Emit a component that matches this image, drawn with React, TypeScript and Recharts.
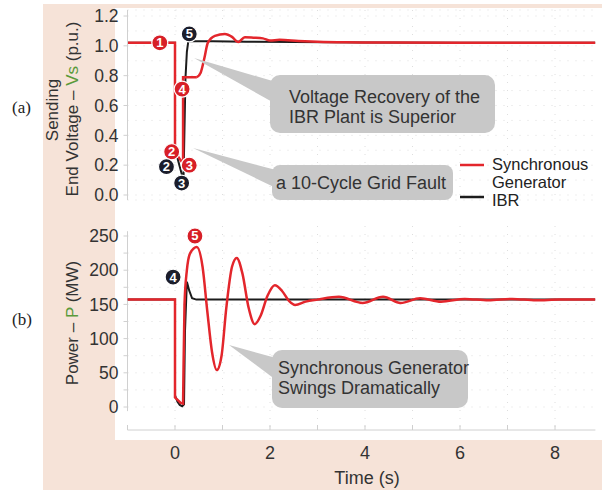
import { LineChart, Line, XAxis, YAxis, CartesianGrid, ReferenceDot, ReferenceLine } from "recharts";

// time axis (s)
const TIME_TICKS = [-1, 0, 1, 2, 3, 4, 5, 6, 7, 8];
const V_TICKS = [0, 0.1, 0.2, 0.3, 0.4, 0.5, 0.6, 0.7, 0.8, 0.9, 1.0, 1.1, 1.2];
const P_TICKS = [0, 25, 50, 75, 100, 125, 150, 175, 200, 225, 250];

// (a) sending end voltage, synchronous generator: fault steps, then recovery
const vSgStepT = [-1, 0, 0, 0.08, 0.17, 0.17, 0.46];
const vSgStep = [1.02, 1.02, 0.3, 0.25, 0.21, 0.79, 0.79];
const vSgRecT = [0.46, 0.54, 0.62, 0.69, 0.84, 1.05, 1.2, 1.33, 1.47, 1.65, 1.85, 2.0, 2.2, 2.6, 3.0, 3.6, 4.5, 6, 7.5, 8.85];
const vSgRec = [0.79, 0.82, 0.92, 1.02, 1.067, 1.08, 1.06, 1.025, 1.058, 1.055, 1.05, 1.035, 1.04, 1.033, 1.028, 1.024, 1.022, 1.02, 1.02, 1.02];

// (a) IBR
const vIbrT = [-1, 0, 0, 0.05, 0.1, 0.15, 0.18, 0.2, 0.22, 0.25, 0.28, 0.4, 0.8, 1.5, 2.5, 4, 6, 8.85];
const vIbr = [1.02, 1.02, 0.28, 0.25, 0.19, 0.13, 0.12, 0.45, 0.78, 0.96, 1.03, 1.03, 1.03, 1.028, 1.025, 1.022, 1.02, 1.02];

// (b) power, synchronous generator: fault part, then swings
const pSgStepT = [-1, 0, 0, 0.06, 0.12, 0.17, 0.18];
const pSgStep = [157, 157, 14, 10, 6, 5, 60];
const pSgSwingT = [0.18, 0.2, 0.25, 0.32, 0.46, 0.58, 0.68, 0.78, 0.88, 0.98, 1.08, 1.2, 1.3, 1.42, 1.55, 1.68, 1.8, 1.95, 2.1, 2.25, 2.4, 2.53, 2.75, 3.0, 3.45, 3.95, 4.38, 4.75, 5.16, 5.6, 6.1, 6.6, 7.1, 7.6, 8.1, 8.85];
const pSgSwing = [60, 150, 200, 225, 234, 205, 140, 80, 54, 75, 145, 205, 218, 195, 145, 121, 133, 163, 178, 170, 155, 149, 154, 157, 161, 152, 161, 152, 159, 154, 158, 156, 158, 156, 157, 157];

// (b) IBR
const pIbrT = [-1, 0, 0, 0.05, 0.1, 0.15, 0.19, 0.21, 0.25, 0.3, 0.36, 0.45, 1, 3, 6, 8.85];
const pIbr = [157, 157, 17, 8, 3, 1, 4, 110, 183, 170, 159, 157, 157, 157, 157, 157];

// numbered event markers
const vMarkT = [-0.32, -0.07, -0.18, 0.3, 0.14, 0.15, 0.3];
const vMarkV = [1.02, 0.29, 0.19, 0.2, 0.08, 0.71, 1.08];
const vMarkN = ["1", "2", "2", "3", "3", "4", "5"];
const vMarkSg = [true, true, false, true, false, true, false];
const pMarkT = [0.42, -0.04];
const pMarkP = [250, 190];
const pMarkN = ["5", "4"];
const pMarkSg = [true, false];

const RED = "#e3262c";
const BLACK = "#1c1c1c";
const PEACH = "#f6e3d8";
const FONT = "'Liberation Sans', Arial, sans-serif";

const pts = (ts: number[], ys: number[]) => ts.map((t, i) => ({ t, y: ys[i] }));

const Marker = (props: any) => {
  const { cx, cy, n, sg } = props;
  return (
    <g>
      <circle cx={cx} cy={cy} r={8} fill={sg ? "#d71f27" : "#1b1d2b"} stroke="#fff" strokeWidth={1.2} />
      <text x={cx} y={cy + 4.5} textAnchor="middle" fontSize={13} fontWeight="bold" fill="#fff" fontFamily={FONT}>
        {n}
      </text>
    </g>
  );
};

const TimeTick = (props: any) => {
  const { x, y, payload } = props;
  const v = payload.value;
  return (
    <g>
      <line x1={x} x2={x} y1={y} y2={y - 5} stroke="#cfcfcf" />
      {v >= 0 && v % 2 === 0 ? (
        <text x={x} y={y + 29} textAnchor="middle" fontSize={18} fill="#333" fontFamily={FONT}>
          {v}
        </text>
      ) : null}
    </g>
  );
};

const fmtV = (v: number) => (Math.round(v * 10) % 2 === 0 ? v.toFixed(1) : "");
const fmtP = (v: number) => (v % 50 === 0 ? String(v) : "");

const axisTick = { fontSize: 17.5, fill: "#333", fontFamily: FONT };

export default function App() {
  return (
    <div style={{ position: "absolute", left: 0, top: 0, width: 602, height: 490, background: "#fff", overflow: "hidden" }}>
      <div style={{ position: "absolute", left: 43, top: 4, width: 72, height: 486, background: PEACH }} />
      <div style={{ position: "absolute", left: 43, top: 4, width: 559, height: 4, background: PEACH }} />
      <div style={{ position: "absolute", left: 43, top: 440, width: 559, height: 50, background: PEACH }} />

      <div style={{ position: "absolute", left: 0, top: 0 }}>
        <LineChart width={602} height={215} margin={{ top: 10, right: 6.6, bottom: 15, left: 0 }}>
          <CartesianGrid stroke="#dedede" strokeDasharray="1 7" verticalValues={[0, 1, 2, 3, 4, 5, 6, 7, 8]} />
          <XAxis type="number" dataKey="t" domain={[-1, 8.85]} ticks={TIME_TICKS} allowDataOverflow hide />
          <YAxis
            type="number"
            domain={[-0.0336, 1.2403]}
            ticks={V_TICKS}
            allowDataOverflow
            width={127.5}
            tickFormatter={fmtV}
            tick={axisTick}
            axisLine={{ stroke: "#d0d0d0" }}
            tickLine={{ stroke: "#d0d0d0" }}
            tickSize={4}
            tickMargin={5}
          />
          <Line data={pts(vIbrT, vIbr)} dataKey="y" type="linear" stroke={BLACK} strokeWidth={2} dot={false} isAnimationActive={false} />
          <Line data={pts(vSgStepT, vSgStep)} dataKey="y" type="linear" stroke={RED} strokeWidth={2.5} dot={false} isAnimationActive={false} />
          <Line data={pts(vSgRecT, vSgRec)} dataKey="y" type="monotone" stroke={RED} strokeWidth={2.5} dot={false} isAnimationActive={false} />
          {vMarkT.map((t, i) => (
            <ReferenceDot
              key={`vm-${i}`}
              x={t}
              y={vMarkV[i]}
              r={8}
              ifOverflow="visible"
              shape={(p: any) => <Marker {...p} n={vMarkN[i]} sg={vMarkSg[i]} />}
            />
          ))}
        </LineChart>
      </div>

      <div style={{ position: "absolute", left: 0, top: 215 }}>
        <LineChart width={602} height={275} margin={{ top: 11, right: 6.6, bottom: 0, left: 0 }}>
          <CartesianGrid stroke="#dedede" strokeDasharray="1 7" verticalValues={[0, 1, 2, 3, 4, 5, 6, 7, 8]} horizontalValues={P_TICKS} />
          <XAxis
            type="number"
            dataKey="t"
            domain={[-1, 8.85]}
            ticks={TIME_TICKS}
            allowDataOverflow
            height={60}
            tickSize={0}
            tickMargin={0}
            tickLine={false}
            axisLine={{ stroke: "#d0d0d0" }}
            tick={<TimeTick />}
          />
          <YAxis
            type="number"
            domain={[-33.6, 264.6]}
            ticks={P_TICKS}
            allowDataOverflow
            width={127.5}
            tickFormatter={fmtP}
            tick={axisTick}
            axisLine={false}
            tickLine={{ stroke: "#d0d0d0" }}
            tickSize={4}
            tickMargin={5}
          />
          <ReferenceLine segment={[{ x: -1, y: -6 }, { x: -1, y: 257 }]} stroke="#d0d0d0" ifOverflow="visible" />
          <Line data={pts(pIbrT, pIbr)} dataKey="y" type="linear" stroke={BLACK} strokeWidth={2} dot={false} isAnimationActive={false} />
          <Line data={pts(pSgStepT, pSgStep)} dataKey="y" type="linear" stroke={RED} strokeWidth={2.5} dot={false} isAnimationActive={false} />
          <Line data={pts(pSgSwingT, pSgSwing)} dataKey="y" type="monotone" stroke={RED} strokeWidth={2.5} dot={false} isAnimationActive={false} />
          {pMarkT.map((t, i) => (
            <ReferenceDot
              key={`pm-${i}`}
              x={t}
              y={pMarkP[i]}
              r={8}
              ifOverflow="visible"
              shape={(p: any) => <Marker {...p} n={pMarkN[i]} sg={pMarkSg[i]} />}
            />
          ))}
        </LineChart>
      </div>

      <svg width={602} height={490} style={{ position: "absolute", left: 0, top: 0, pointerEvents: "none" }} fontFamily={FONT}>
        <text x={12} y={113} fontSize={17} fill="#222" fontFamily="'Liberation Serif', serif">(a)</text>
        <text x={12} y={325} fontSize={17} fill="#222" fontFamily="'Liberation Serif', serif">(b)</text>

        <text transform="translate(58,110) rotate(-90)" textAnchor="middle" fontSize={17} fill="#333">Sending</text>
        <text transform="translate(78,109) rotate(-90)" textAnchor="middle" fontSize={17} fill="#333">
          End Voltage – <tspan fill="#5a9a3a">Vs</tspan> (p.u.)
        </text>
        <text transform="translate(78,323) rotate(-90)" textAnchor="middle" fontSize={17} fill="#333">
          Power – <tspan fill="#5a9a3a">P</tspan> (MW)
        </text>

        <text x={367} y={484} textAnchor="middle" fontSize={18} fill="#333">Time (s)</text>

        <g fill="#c8c8c8">
          <polygon points="194,58 276,82 276,104" />
          <rect x={270} y={75} width={225} height={58} rx={10} />
          <polygon points="193,148 276,170 276,188" />
          <rect x={272} y={165} width={181} height={35} rx={8} />
          <polygon points="229,345 276,358 276,380" />
          <rect x={272} y={350} width={196} height={58} rx={10} />
        </g>
        <g fontSize={18} fill="#333">
          <text x={289} y={103}>Voltage Recovery of the</text>
          <text x={289} y={123}>IBR Plant is Superior</text>
          <text x={276} y={189}>a 10-Cycle Grid Fault</text>
          <text x={278} y={374}>Synchronous Generator</text>
          <text x={278} y={394}>Swings Dramatically</text>
        </g>

        <line x1={460} x2={484} y1={165} y2={165} stroke={RED} strokeWidth={2.5} />
        <line x1={460} x2={484} y1={197} y2={197} stroke={BLACK} strokeWidth={2.5} />
        <g fontSize={16.5} fill="#222">
          <text x={492} y={170}>Synchronous</text>
          <text x={492} y={188}>Generator</text>
          <text x={492} y={206}>IBR</text>
        </g>
      </svg>
    </div>
  );
}
